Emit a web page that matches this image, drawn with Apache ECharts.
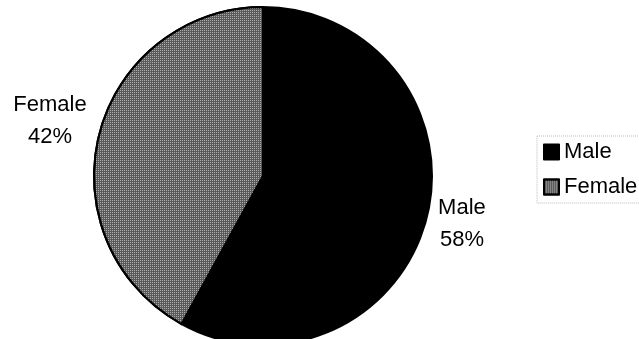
<!DOCTYPE html>
<html>
<head>
<meta charset="utf-8">
<script src="https://cdn.jsdelivr.net/npm/echarts@6/dist/echarts.min.js"></script>
<style>
  html, body { margin: 0; padding: 0; background: #fff; }
  #chart { width: 639px; height: 339px; }
</style>
</head>
<body>
<div id="chart"></div>
<script>
// data
const categories = ['Male', 'Female']
const values = [58, 42]
const colors = ['#000000', '#5a5a5a']

const font = 'Liberation Sans, Arial, sans-serif'

// per slice label tuning (outside labels, line hidden)
const labelLen = [24, 52]
const labelLen2 = [-26, -39]

const chart = echarts.init(document.getElementById('chart'))

const pieData = categories.map((name, i) => {
  const item = {
    name: name,
    value: values[i],
    itemStyle: { color: colors[i] },
    labelLine: { show: false, length: labelLen[i], length2: labelLen2[i] }
  }
  if (i === 1) {
    // speckled grey like the scanned fill
    item.itemStyle.decal = {
      symbol: 'rect',
      symbolSize: 1,
      dashArrayX: [1, 1],
      dashArrayY: [1, 1],
      color: 'rgba(255,255,255,0.5)'
    }
  }
  return item
})

const option = {
  backgroundColor: '#ffffff',
  animation: false,
  legend: {
    orient: 'vertical',
    left: 537,
    top: 136,
    padding: [5, 30, 5, 6],
    itemWidth: 15,
    itemHeight: 15,
    itemGap: 13,
    icon: 'rect',
    borderColor: '#bbb',
    borderWidth: 1,
    borderType: 'dotted',
    textStyle: { fontFamily: font, fontSize: 22, color: '#000' },
    data: categories
  },
  series: [
    {
      type: 'pie',
      center: [263, 176],
      radius: 169,
      startAngle: 90,
      clockwise: true,
      avoidLabelOverlap: false,
      itemStyle: { borderColor: '#000', borderWidth: 2 },
      label: {
        show: true,
        position: 'outside',
        distanceToLabelLine: 0,
        bleedMargin: 0,
        formatter: '{a|{b}}\n{a|{d}%}',
        rich: {
          a: {
            width: 76,
            align: 'center',
            fontFamily: font,
            fontSize: 22,
            lineHeight: 32,
            color: '#000'
          }
        }
      },
      data: pieData
    }
  ]
}

chart.setOption(option)
</script>
</body>
</html>
